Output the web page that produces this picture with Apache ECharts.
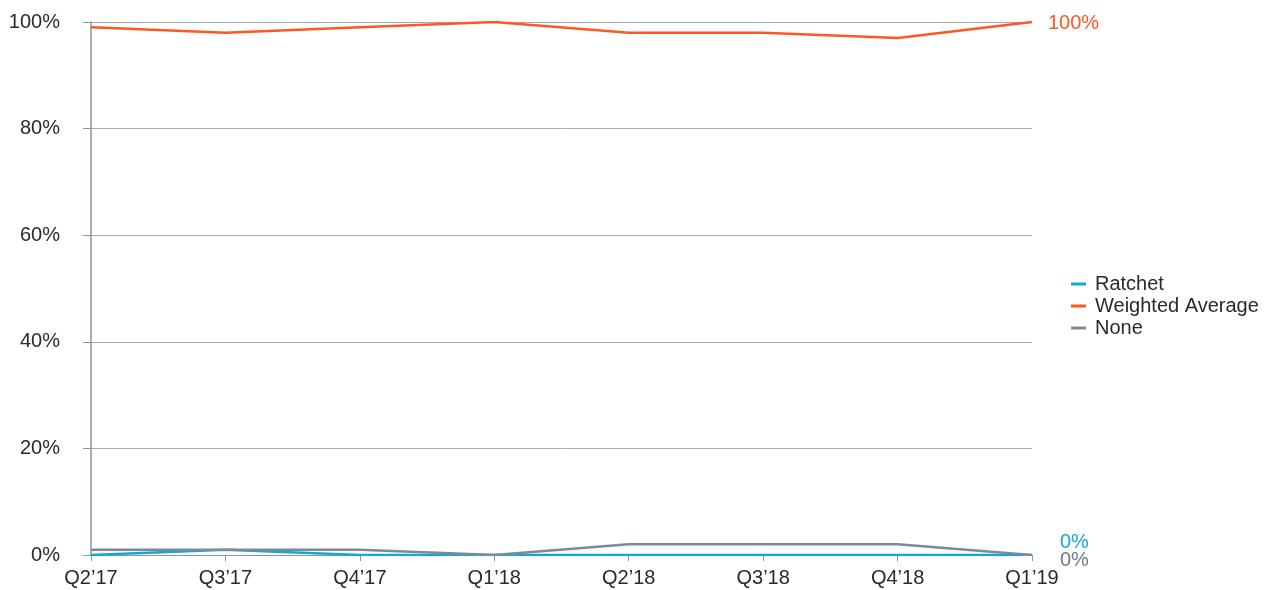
<!DOCTYPE html>
<html><head><meta charset="utf-8">
<script src="https://cdn.jsdelivr.net/npm/echarts@6/dist/echarts.min.js"></script>
<style>html,body{margin:0;padding:0;background:#fff}#c{width:1283px;height:590px}</style>
</head><body><div id="c"></div>
<script>
const categories = ["Q2\u201917","Q3\u201917","Q4\u201917","Q1\u201918","Q2\u201918","Q3\u201918","Q4\u201918","Q1\u201919"];
const ratchet = [0, 1, 0, 0, 0, 0, 0, 0];
const weightedAverage = [99, 98, 99, 100, 98, 98, 97, 100];
const none = [1, 1, 1, 0, 2, 2, 2, 0];
const yTicks = [0, 20, 40, 60, 80, 100];

const FONT = "'Liberation Sans', Arial, sans-serif";
const FS = 20;
const chart = echarts.init(document.getElementById('c'));
function mk(name, data, color, offset, labelColor) {
  return {
    name, type: 'line', data, symbol: 'none', smooth: false,
    lineStyle: { color, width: 2.5 }, itemStyle: { color },
    endLabel: { show: true, formatter: p => p.value + '%', color: labelColor || color, fontSize: FS, fontFamily: FONT, offset, distance: 0 }
  };
}
chart.setOption({
  animation: false,
  textStyle: { fontFamily: FONT },
  grid: { left: 91, right: 251, top: 22, bottom: 35, containLabel: false },
  legend: {
    orient: 'vertical', left: 1066, top: 269, itemWidth: 15, itemHeight: 3, itemGap: 2,
    icon: 'rect',
    textStyle: { fontSize: FS, color: '#2a2a2a', fontFamily: FONT, padding: [0, 0, 0, 4] },
    data: ['Ratchet', 'Weighted Average', 'None']
  },
  xAxis: {
    type: 'category', data: categories, boundaryGap: false,
    axisLine: { show: true, lineStyle: { color: '#8a96a3', width: 1 } },
    axisTick: { show: true, alignWithLabel: true, length: 6, lineStyle: { color: '#8a96a3' } },
    axisLabel: { color: '#2a2a2a', fontSize: FS, margin: 13, fontFamily: FONT },
    splitLine: { show: false }
  },
  yAxis: {
    type: 'value', min: 0, max: 100, interval: 20,
    axisLine: { show: true, lineStyle: { color: '#8a96a3', width: 1.5 } },
    axisTick: { show: true, inside: false, length: 8, lineStyle: { color: '#8a96a3' } },
    axisLabel: { color: '#2a2a2a', fontSize: FS, margin: 31, fontFamily: FONT,
      formatter: v => yTicks.includes(v) ? v + '%' : '' },
    splitLine: { show: true, lineStyle: { color: '#a3adb8', width: 1 } }
  },
  series: [
    mk('Ratchet', ratchet, '#12a8d3', [28, -13]),
    mk('Weighted Average', weightedAverage, '#ff5722', [16, 1]),
    mk('None', none, '#7d8a97', [28, 5], '#6f7a86')
  ]
});
</script></body></html>
